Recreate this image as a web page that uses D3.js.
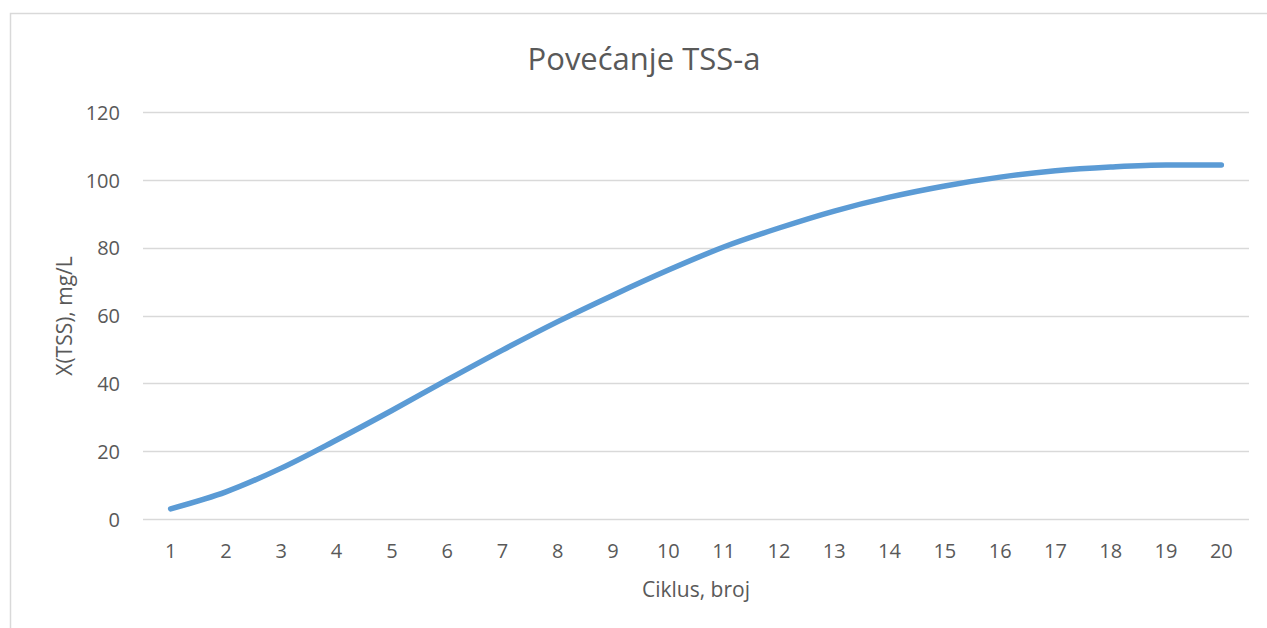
<!DOCTYPE html>
<html>
<head>
<meta charset="utf-8">
<script src="https://cdn.jsdelivr.net/npm/d3@7"></script>
<style>
  body { margin: 0; background: #fff; }
  svg { display: block; }
  text { font-family: "Open Sans", Lato, sans-serif; fill: #595959; }
</style>
</head>
<body>
<svg id="chart" width="1267" height="628"></svg>
<script>
const categories = ["1","2","3","4","5","6","7","8","9","10","11","12","13","14","15","16","17","18","19","20"];
const values = [3, 8, 15, 23.3, 32, 41, 49.8, 58.2, 66, 73.4, 80.2, 85.8, 90.8, 94.9, 98.2, 100.8, 102.7, 103.8, 104.4, 104.4];
const yTicks = [0, 20, 40, 60, 80, 100, 120];
const title = "Povećanje TSS-a";
const xTitle = "Ciklus, broj";
const yTitle = "X(TSS), mg/L";

const svg = d3.select("#chart");
const W = 1267, H = 628;
const plot = { left: 143, right: 1249, top: 112, bottom: 519 };
const FONT = "'Open Sans', Lato, sans-serif";

// outer border
svg.append("rect").attr("x", 10.5).attr("y", 13.5).attr("width", W).attr("height", H)
  .attr("fill", "none").attr("stroke", "#d9d9d9").attr("stroke-width", 1.5);

const x = d3.scaleBand().domain(categories).range([plot.left, plot.right]);
const y = d3.scaleLinear().domain([0, 120]).range([plot.bottom, plot.top]);

// gridlines
svg.append("g").selectAll("line").data(yTicks).join("line")
  .attr("x1", plot.left).attr("x2", plot.right)
  .attr("y1", d => Math.round(y(d)) + 0.5).attr("y2", d => Math.round(y(d)) + 0.5)
  .attr("stroke", "#d9d9d9").attr("stroke-width", 1.3);

// y axis labels
const yAxis = d3.axisLeft(y).tickValues(yTicks).tickSize(0).tickPadding(0);
const gy = svg.append("g").attr("transform", `translate(${plot.left - 23},0)`).call(yAxis);
gy.select(".domain").remove();
gy.selectAll("text").style("font-size", "20px").attr("fill", "#595959")
  .style("font-family", FONT).attr("dy", "0.36em");

// x axis labels
const xAxis = d3.axisBottom(x).tickSize(0).tickPadding(0);
const gx = svg.append("g").attr("transform", `translate(0,${plot.bottom})`).call(xAxis);
gx.select(".domain").remove();
gx.selectAll("text").style("font-size", "20px").attr("fill", "#595959")
  .style("font-family", FONT).attr("dy", null).attr("y", 39);

// line
const line = d3.line()
  .x((d, i) => x(categories[i]) + x.bandwidth() / 2)
  .y(d => y(d))
  .curve(d3.curveMonotoneX);
svg.append("path").datum(values)
  .attr("d", line)
  .attr("fill", "none")
  .attr("stroke", "#5b9bd5")
  .attr("stroke-width", 5.5)
  .attr("stroke-linecap", "round")
  .attr("stroke-linejoin", "round");

// titles
svg.append("text").attr("x", 644).attr("y", 70).attr("text-anchor", "middle")
  .style("font-size", "31px").text(title);
svg.append("text").attr("x", 696).attr("y", 597).attr("text-anchor", "middle")
  .style("font-size", "21px").text(xTitle);
svg.append("text").attr("transform", "translate(72,316) rotate(-90)").attr("text-anchor", "middle")
  .style("font-size", "21px").text(yTitle);
</script>
</body>
</html>
